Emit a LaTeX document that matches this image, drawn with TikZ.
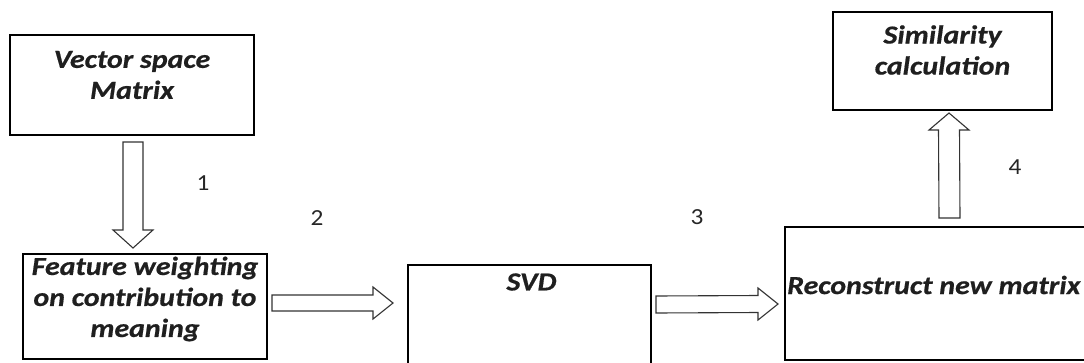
\documentclass[tikz,border=0pt]{standalone}
\usepackage{fontspec}
\setmainfont{Carlito}
\newfontfamily\boxfont{Carlito}[FakeStretch=1.15,FakeBold=0.6]
\newfontfamily\numfont{Carlito}[FakeStretch=1.1]
\usetikzlibrary{calc}
\begin{document}
\begin{tikzpicture}[x=1pt,y=-1pt,
  box/.style={draw=black,line width=2.2pt,rectangle,inner sep=0pt,outer sep=0pt},
  boxtext/.style={inner sep=0pt,align=center,text=black!88,font=\boxfont\fontsize{26}{31}\selectfont\bfseries\itshape},
  numtext/.style={inner sep=0pt,text=black!85,font=\numfont\fontsize{23}{27}\selectfont},
  barrow/.style={draw=black!80,line width=1.1pt,fill=white,line join=miter}]
\useasboundingbox (0,0) rectangle (1084,362);
\clip (0,0) rectangle (1084,362);
% boxes
\node[box,minimum width=244pt,minimum height=100pt] (vsm) at (132,85) {};
\node[box,minimum width=244pt,minimum height=105pt] (feat) at (145,306.5) {};
\node[box,minimum width=243pt,minimum height=115pt] (svd) at (529.5,322.5) {};
\node[box,minimum width=325pt,minimum height=133pt] (recon) at (947.5,293.5) {};
\node[box,minimum width=219pt,minimum height=98pt] (sim) at (942.5,61) {};
% texts
\node[boxtext] (vsmT) at ($(vsm.north)+(0,40)$) {Vector space\\Matrix};
\node[boxtext] (featT) at ($(feat.north)+(0,45)$) {Feature weighting\\on contribution to\\meaning};
\node[boxtext] (svdT) at ($(svd.north)+(2,17)$) {SVD};
\node[boxtext,anchor=west] (reconT) at ($(recon.north west)+(2,58)$) {Reconstruct new matrix};
\node[boxtext] (simT) at ($(sim.north)+(0,38)$) {Similarity\\calculation};
% numbers
\node[numtext] (n1) at (203,183) {1};
\node[numtext] (n2) at (317,218) {2};
\node[numtext] (n3) at (697,217) {3};
\node[numtext] (n4) at (1015,167) {4};
% arrow end points
\coordinate (a1s) at ($(vsm.south)+(1,7)$);
\coordinate (a1t) at ($(feat.north)+(-12,-6)$);
\coordinate (a2s) at ($(feat.east)+(5,-3.5)$);
\coordinate (a2t) at ($(svd.west)+(-15,-19.5)$);
\coordinate (a3s) at ($(svd.east)+(5,-18)$);
\coordinate (a3t) at ($(recon.west)+(-7,10.5)$);
\coordinate (a4s) at ($(recon.north)+(2,-9)$);
\coordinate (a4t) at ($(sim.south)+(6.5,3)$);
% block arrows
\draw[barrow] ($(a1s)+(-10,0)$) -- ($(a1s)+(10,0)$) -- ($(a1t)+(10,-18)$) -- ($(a1t)+(20,-18)$) -- (a1t) -- ($(a1t)+(-20,-18)$) -- ($(a1t)+(-10,-18)$) -- cycle;
\draw[barrow] ($(a2s)+(0,-8)$) -- ($(a2t)+(-20,-8)$) -- ($(a2t)+(-20,-16)$) -- (a2t) -- ($(a2t)+(-20,16)$) -- ($(a2t)+(-20,8)$) -- ($(a2s)+(0,8)$) -- cycle;
\draw[barrow] ($(a3s)+(0,-8.5)$) -- ($(a3t)+(-20,-8.5)$) -- ($(a3t)+(-20,-16)$) -- (a3t) -- ($(a3t)+(-20,16)$) -- ($(a3t)+(-20,8.5)$) -- ($(a3s)+(0,8.5)$) -- cycle;
\draw[barrow] ($(a4s)+(-10.5,0)$) -- ($(a4t)+(-10.5,17)$) -- ($(a4t)+(-20,17)$) -- (a4t) -- ($(a4t)+(20,17)$) -- ($(a4t)+(10.5,17)$) -- ($(a4s)+(10.5,0)$) -- cycle;
\end{tikzpicture}
\end{document}
